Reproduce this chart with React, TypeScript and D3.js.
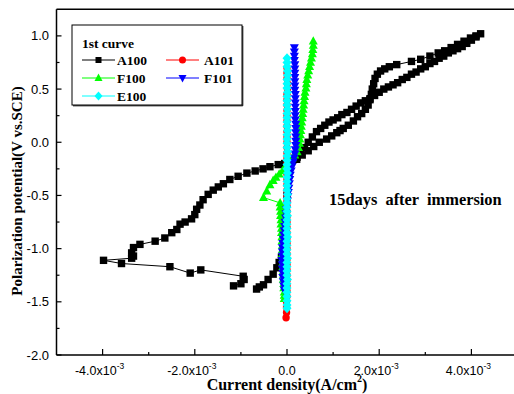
import React from "react";
import * as d3 from "d3";

const W = 514;
const H = 394;
const X_UNIT = 1e-3; // series x values below are in units of 1e-3 A/cm2

const xTickValues = [-4e-3, -2e-3, 0, 2e-3, 4e-3];
const xTickMantissas = ["-4.0x10", "-2.0x10", "0.0", "2.0x10", "4.0x10"];
const xTickExponents = ["-3", "-3", "", "-3", "-3"];
const xMinorTicks = [-3e-3, -1e-3, 1e-3, 3e-3];
const yTickValues = [-2.0, -1.5, -1.0, -0.5, 0, 0.5, 1.0];
const yTickLabels = ["-2.0", "-1.5", "-1.0", "-0.5", "0.0", "0.5", "1.0"];
const yMinorTicks = [-1.75, -1.25, -0.75, -0.25, 0.25, 0.75];

const seriesNames = ["A100", "A101", "F100", "F101", "E100"];
const seriesColors = ["#000000", "#ff0000", "#00ff00", "#0000ff", "#00ffff"];
const seriesMarkers = ["square", "circle", "triangle", "triangleDown", "diamond"];

const A100: [number, number][] = [
  [-1.16, -1.35], [-1.0, -1.33], [-0.93, -1.29], [-0.95, -1.26],
  [-1.87, -1.2], [-2.1, -1.23], [-2.54, -1.17], [-3.59, -1.14], [-3.98, -1.11],
  [-3.37, -1.09], [-3.33, -1.07], [-3.37, -1.04], [-3.33, -0.99], [-3.19, -0.96],
  [-2.86, -0.93], [-2.65, -0.9], [-2.5, -0.85], [-2.39, -0.82], [-2.32, -0.77],
  [-2.21, -0.75], [-2.07, -0.72], [-2.0, -0.68], [-1.96, -0.63], [-1.89, -0.59],
  [-1.82, -0.54], [-1.71, -0.49], [-1.6, -0.45], [-1.49, -0.42], [-1.38, -0.39],
  [-1.24, -0.35], [-1.06, -0.32], [-0.87, -0.29], [-0.69, -0.27], [-0.52, -0.25],
  [-0.37, -0.23], [-0.19, -0.21], [-0.05, -0.2], [0.08, -0.19],
  [0.21, -0.16], [0.33, -0.12], [0.46, -0.08], [0.58, -0.04], [0.7, 0.0],
  [0.86, 0.03], [0.97, 0.06], [1.08, 0.09], [1.15, 0.11], [1.22, 0.13],
  [1.33, 0.16], [1.44, 0.2], [1.53, 0.24], [1.62, 0.27], [1.7, 0.31],
  [1.76, 0.35], [1.8, 0.4], [1.83, 0.45], [1.85, 0.5], [1.88, 0.55],
  [1.91, 0.6], [1.96, 0.64], [2.03, 0.67], [2.12, 0.69], [2.22, 0.71],
  [2.38, 0.73], [2.7, 0.76], [2.9, 0.78], [3.1, 0.81], [3.28, 0.84],
  [3.42, 0.86], [3.56, 0.89], [3.7, 0.92], [3.84, 0.95], [3.98, 0.98],
  [4.1, 1.0], [4.2, 1.02],
  [4.1, 0.99], [4.0, 0.96], [3.9, 0.93], [3.8, 0.9], [3.7, 0.88], [3.6, 0.86],
  [3.5, 0.84], [3.4, 0.81], [3.3, 0.79], [3.2, 0.76], [3.1, 0.74], [3.0, 0.71],
  [2.9, 0.69], [2.8, 0.66], [2.7, 0.64], [2.6, 0.61], [2.5, 0.59], [2.4, 0.56],
  [2.3, 0.54], [2.2, 0.52], [2.1, 0.5], [2.0, 0.47], [1.9, 0.44], [1.8, 0.41],
  [1.7, 0.39], [1.6, 0.37], [1.5, 0.34], [1.4, 0.31], [1.3, 0.28], [1.19, 0.26],
  [1.1, 0.23], [1.0, 0.21], [0.91, 0.19], [0.82, 0.16], [0.73, 0.13], [0.64, 0.1],
  [0.55, 0.05], [0.46, 0.0], [0.38, -0.05], [0.3, -0.1], [0.22, -0.14], [0.12, -0.17],
  [0.03, -0.3], [0.0, -0.5], [-0.03, -0.7], [-0.06, -0.9], [-0.09, -1.0],
  [-0.12, -1.08], [-0.17, -1.13], [-0.22, -1.18], [-0.3, -1.24], [-0.41, -1.29],
  [-0.51, -1.34], [-0.6, -1.36], [-0.66, -1.38],
];

const A101: [number, number][] = [
  [0.0, 0.7], [0.0, 0.65], [0.0, 0.6], [0.01, 0.55], [0.01, 0.5], [0.0, 0.45],
  [0.0, 0.4], [0.0, 0.35], [0.0, 0.3], [0.0, 0.25], [0.0, 0.2], [0.0, 0.15],
  [0.0, 0.1], [0.0, 0.05], [0.0, 0.0], [0.0, -0.05], [0.0, -0.1], [0.0, -0.15],
  [0.0, -0.2], [0.0, -0.25], [0.0, -0.3], [0.0, -0.35], [0.0, -0.4], [0.0, -0.45],
  [0.0, -0.5], [0.0, -0.55], [0.0, -0.6], [0.0, -0.65], [0.0, -0.7], [0.0, -0.75],
  [0.0, -0.8], [0.0, -0.85], [0.0, -0.9], [0.0, -0.95], [0.0, -1.0], [0.0, -1.05],
  [0.0, -1.1], [0.0, -1.15], [0.0, -1.2], [0.0, -1.25], [0.0, -1.3], [0.0, -1.35],
  [0.0, -1.4], [0.0, -1.45], [-0.01, -1.5], [-0.01, -1.55], [-0.01, -1.6], [-0.02, -1.65],
];

const F100: [number, number][] = [
  [0.57, 0.95], [0.57, 0.91], [0.56, 0.87], [0.55, 0.83], [0.53, 0.79], [0.51, 0.75],
  [0.49, 0.71], [0.47, 0.67], [0.45, 0.63], [0.43, 0.59], [0.42, 0.55], [0.41, 0.51],
  [0.39, 0.47], [0.38, 0.43], [0.37, 0.39], [0.36, 0.35], [0.35, 0.31], [0.34, 0.27],
  [0.33, 0.23], [0.32, 0.19], [0.31, 0.15], [0.3, 0.11], [0.29, 0.07], [0.28, 0.03],
  [0.27, -0.01], [0.25, -0.05], [0.22, -0.09], [0.17, -0.12], [0.11, -0.15], [0.05, -0.18],
  [0.0, -0.21], [-0.05, -0.24], [-0.1, -0.27], [-0.17, -0.3], [-0.24, -0.33], [-0.3, -0.36],
  [-0.37, -0.4], [-0.44, -0.46], [-0.51, -0.52],
  [-0.15, -0.57], [-0.15, -0.61], [-0.14, -0.65], [-0.14, -0.69], [-0.13, -0.73],
  [-0.13, -0.77], [-0.12, -0.81], [-0.12, -0.85], [-0.11, -0.89], [-0.11, -0.93],
  [-0.1, -0.97], [-0.1, -1.01], [-0.1, -1.05], [-0.09, -1.09], [-0.09, -1.13],
  [-0.09, -1.17], [-0.08, -1.21], [-0.08, -1.25], [-0.08, -1.29], [-0.07, -1.33],
  [-0.07, -1.37], [-0.06, -1.41], [-0.06, -1.44], [-0.06, -1.47],
];

const F101: [number, number][] = [
  [0.16, 0.89], [0.16, 0.85], [0.16, 0.81], [0.16, 0.77], [0.17, 0.73], [0.17, 0.69],
  [0.17, 0.65], [0.17, 0.61], [0.17, 0.57], [0.17, 0.53], [0.17, 0.49], [0.18, 0.45],
  [0.18, 0.41], [0.18, 0.37], [0.18, 0.33], [0.18, 0.29], [0.18, 0.25], [0.18, 0.21],
  [0.19, 0.17], [0.19, 0.13], [0.19, 0.09], [0.19, 0.05], [0.19, 0.01], [0.19, -0.03],
  [0.18, -0.07], [0.17, -0.11], [0.15, -0.15], [0.13, -0.19], [0.11, -0.23], [0.09, -0.27],
  [0.07, -0.31], [0.06, -0.35], [0.05, -0.39], [0.04, -0.43], [0.03, -0.47], [0.02, -0.51],
  [0.01, -0.55], [0.0, -0.59], [-0.01, -0.63], [-0.02, -0.67], [-0.03, -0.71], [-0.04, -0.75],
  [-0.05, -0.79], [-0.06, -0.83], [-0.07, -0.87], [-0.08, -0.91], [-0.09, -0.95], [-0.1, -0.99],
  [-0.1, -1.03], [-0.1, -1.07], [-0.11, -1.11], [-0.1, -1.15], [-0.1, -1.19], [-0.09, -1.23],
  [-0.09, -1.27], [-0.08, -1.31], [-0.07, -1.35], [-0.06, -1.39],
];

const E100: [number, number][] = [
  [0.0, 0.79], [0.0, 0.75], [0.0, 0.71], [0.01, 0.67], [0.01, 0.63], [0.0, 0.59],
  [0.0, 0.55], [0.0, 0.51], [0.01, 0.47], [0.0, 0.43], [0.0, 0.39], [0.0, 0.35],
  [0.01, 0.31], [0.0, 0.27], [0.0, 0.23], [0.0, 0.19], [0.0, 0.15], [0.01, 0.11],
  [0.0, 0.07], [0.0, 0.03], [0.0, -0.01], [0.0, -0.05], [0.01, -0.09], [0.0, -0.13],
  [0.0, -0.17], [0.0, -0.21], [0.0, -0.25], [0.01, -0.29], [0.0, -0.33], [0.0, -0.37],
  [0.0, -0.41], [0.0, -0.45], [0.01, -0.49], [0.0, -0.53], [0.0, -0.57], [0.0, -0.61],
  [0.0, -0.65], [0.01, -0.69], [0.0, -0.73], [0.0, -0.77], [0.0, -0.81], [0.0, -0.85],
  [0.01, -0.89], [0.0, -0.93], [0.0, -0.97], [0.0, -1.01], [0.0, -1.05], [0.01, -1.09],
  [0.0, -1.13], [0.0, -1.17], [0.0, -1.21], [0.0, -1.25], [0.01, -1.29], [0.0, -1.33],
  [0.0, -1.37], [0.0, -1.41], [0.0, -1.45], [0.0, -1.49], [0.0, -1.53], [0.0, -1.56],
];

const seriesData = [A100, A101, F100, F101, E100];

const legendTitle = "1st curve";
const annotation = "15days  after  immersion";
const xTitle = "Current density(A/cm";
const yTitle = "Polarization potential(V vs.SCE)";

function markerPath(type: string, s: number): string {
  const h = s / 2;
  switch (type) {
    case "square":
      return `M${-h},${-h}h${s}v${s}h${-s}z`;
    case "circle":
      return `M${-h},0a${h},${h} 0 1,0 ${s},0a${h},${h} 0 1,0 ${-s},0z`;
    case "triangle":
      return `M0,${-h * 1.1}L${h},${h * 0.75}L${-h},${h * 0.75}z`;
    case "triangleDown":
      return `M0,${h * 1.1}L${h},${-h * 0.75}L${-h},${-h * 0.75}z`;
    case "diamond":
      return `M0,${-h * 1.1}L${h},0L0,${h * 1.1}L${-h},0z`;
  }
  return "";
}

const markerSizes = [7.4, 7.4, 9, 9, 9];
const legendMarkerSizes = [6, 7, 8, 8, 8];

export default function App() {
  const x = d3.scaleLinear().domain([-5e-3, 5e-3]).range([56.5, 517.5]);
  const y = d3.scaleLinear().domain([-2, 1.25]).range([355, 9.3]);
  const line = d3
    .line<[number, number]>()
    .x((d) => x(d[0] * X_UNIT))
    .y((d) => y(d[1]));

  const serif = "'Liberation Serif', 'Times New Roman', serif";
  const sans = "'Liberation Sans', Arial, sans-serif";

  const legendItems = [
    { i: 0, lx: 82, ly: 60, tx: 117 },
    { i: 1, lx: 166, ly: 60, tx: 204 },
    { i: 2, lx: 82, ly: 78, tx: 117 },
    { i: 3, lx: 166, ly: 78, tx: 204 },
    { i: 4, lx: 82, ly: 96, tx: 117 },
  ];

  const x0 = x.range()[0];
  const yb = y.range()[0];
  const yt = y.range()[1];

  return (
    <svg
      width={W}
      height={H}
      style={{ position: "absolute", left: 0, top: 0, background: "#fff" }}
    >
      <rect x={0} y={0} width={W} height={H} fill="#fff" />

      {/* series */}
      {seriesData.map((data, si) => (
        <g key={seriesNames[si]}>
          <path d={line(data) || ""} fill="none" stroke={seriesColors[si]} strokeWidth={1} />
          {data.map((d, j) => (
            <path
              key={j}
              transform={`translate(${x(d[0] * X_UNIT)},${y(d[1])})`}
              d={markerPath(seriesMarkers[si], markerSizes[si])}
              fill={seriesColors[si]}
            />
          ))}
        </g>
      ))}

      {/* frame */}
      <line x1={x0} x2={W + 10} y1={yt} y2={yt} stroke="#000" strokeWidth={1.5} />
      <line x1={x0} x2={x0} y1={yt} y2={yb} stroke="#000" strokeWidth={1.5} />
      <line x1={x0} x2={W + 10} y1={yb} y2={yb} stroke="#000" strokeWidth={1.5} />

      {/* x ticks */}
      {xTickValues.map((v, i) => (
        <g key={"xt" + i}>
          <line x1={x(v)} x2={x(v)} y1={yb} y2={yb - 6} stroke="#000" strokeWidth={1.2} />
          <text
            x={xTickExponents[i] ? x(v) - 3 : x(v)}
            y={375}
            textAnchor="middle"
            fontFamily={sans}
            fontSize={12.5}
          >
            {xTickMantissas[i]}
            {xTickExponents[i] ? (
              <tspan dy={-6} fontSize={8.5}>
                {xTickExponents[i]}
              </tspan>
            ) : null}
          </text>
        </g>
      ))}
      {xMinorTicks.map((v, i) => (
        <line key={"xm" + i} x1={x(v)} x2={x(v)} y1={yb} y2={yb - 3} stroke="#000" strokeWidth={1.2} />
      ))}

      {/* y ticks */}
      {yTickValues.map((v, i) => (
        <g key={"yt" + i}>
          <line x1={x0} x2={x0 + 5} y1={y(v)} y2={y(v)} stroke="#000" strokeWidth={1.2} />
          <text
            x={49}
            y={y(v)}
            textAnchor="end"
            dominantBaseline="central"
            fontFamily={sans}
            fontSize={13}
          >
            {yTickLabels[i]}
          </text>
        </g>
      ))}
      {yMinorTicks.map((v, i) => (
        <line key={"ym" + i} x1={x0} x2={x0 + 3} y1={y(v)} y2={y(v)} stroke="#000" strokeWidth={1.2} />
      ))}

      {/* axis titles */}
      <text
        x={287}
        y={389.5}
        textAnchor="middle"
        fontFamily={serif}
        fontWeight="bold"
        fontSize={16}
      >
        {xTitle}
        <tspan dy={-8} fontSize={10}>2</tspan>
        <tspan dy={8}>)</tspan>
      </text>
      <text
        transform="translate(17,191) rotate(-90)"
        textAnchor="middle"
        dominantBaseline="central"
        fontFamily={serif}
        fontWeight="bold"
        fontSize={15}
      >
        {yTitle}
      </text>

      {/* annotation */}
      <text
        x={329}
        y={205}
        fontFamily={serif}
        fontWeight="bold"
        fontSize={16.4}
        style={{ whiteSpace: "pre" }}
      >
        {annotation}
      </text>

      {/* legend */}
      <rect x={72} y={25} width={170} height={80} fill="#fff" stroke="#000" strokeWidth={1} />
      <line x1={242.8} x2={242.8} y1={26} y2={105.8} stroke="#000" strokeWidth={1} />
      <line x1={73} x2={242.8} y1={105.8} y2={105.8} stroke="#000" strokeWidth={1} />
      <text x={82} y={47.5} fontFamily={serif} fontWeight="bold" fontSize={13.5}>
        {legendTitle}
      </text>
      {legendItems.map((it) => (
        <g key={"lg" + it.i}>
          <line
            x1={it.lx}
            x2={it.lx + 33}
            y1={it.ly}
            y2={it.ly}
            stroke={seriesColors[it.i]}
            strokeWidth={1}
          />
          <path
            transform={`translate(${it.lx + 16.5},${it.ly})`}
            d={markerPath(seriesMarkers[it.i], legendMarkerSizes[it.i])}
            fill={seriesColors[it.i]}
          />
          <text
            x={it.tx}
            y={it.ly}
            dominantBaseline="central"
            fontFamily={serif}
            fontWeight="bold"
            fontSize={13.5}
          >
            {seriesNames[it.i]}
          </text>
        </g>
      ))}
    </svg>
  );
}
